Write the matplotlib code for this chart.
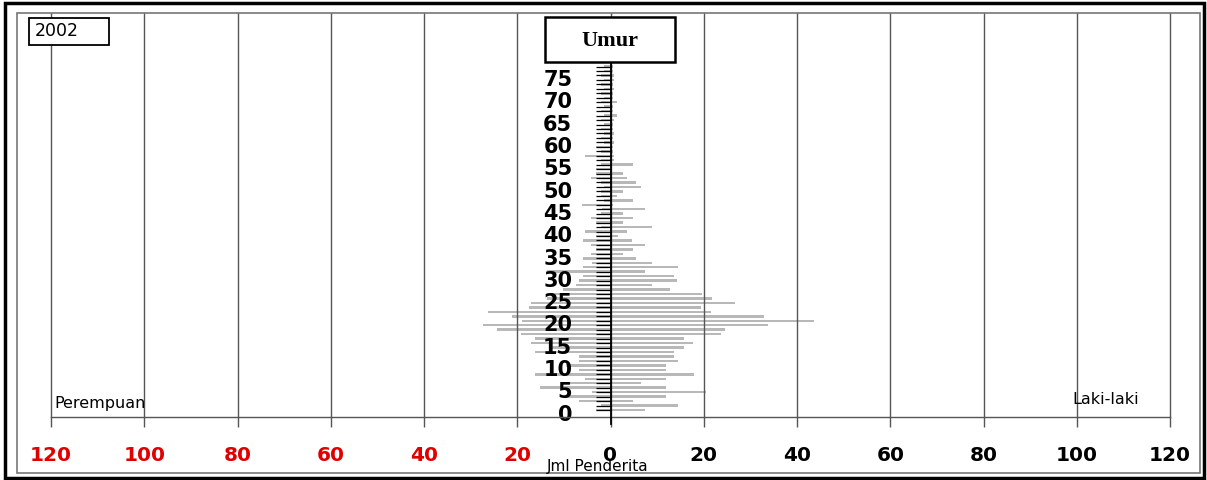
import numpy as np
import matplotlib
matplotlib.use("Agg")
import matplotlib.pyplot as plt
from matplotlib.patches import Rectangle
from matplotlib.transforms import ScaledTranslation

# umur 0..77
ages = list(range(78))

laki = [7.5, 14.5, 4.8, 11.8, 20.5, 11.8, 6.6, 11.8, 17.9, 11.8,
        11.8, 14.5, 13.6, 13.6, 15.7, 17.7, 15.7, 23.7, 24.6, 33.7,
        43.6, 32.9, 21.6, 19.4, 26.6, 21.8, 19.6, 12.7, 8.8, 14.3,
        13.6, 7.5, 14.4, 8.8, 5.4, 2.7, 4.8, 7.5, 4.6, 1.6,
        3.6, 8.8, 2.7, 4.8, 2.7, 7.5, 0.5, 4.8, 1.4, 2.6,
        6.6, 5.4, 3.6, 2.7, 0.4, 4.8, 0.7, 0.7, 0.5, 0.6,
        0.7, 0.5, 0.7, 0.6, 0.5, 0.7, 1.4, 0.6, 0.5, 1.4,
        0.6, 0.5, 0.7, 0.6, 0.8, 0.7, 0.6, 0.5]

perempuan = [3.2, 2.0, 6.8, 9.6, 4.0, 15.1, 9.6, 5.4, 16.3, 6.8,
             9.6, 6.8, 6.8, 16.3, 12.5, 17.0, 16.3, 19.1, 24.3, 27.4,
             18.9, 21.2, 26.3, 17.5, 17.0, 13.6, 13.6, 10.1, 7.5, 6.8,
             6.0, 13.6, 6.0, 4.0, 6.0, 4.1, 3.2, 4.1, 6.0, 3.2,
             5.4, 2.1, 3.2, 4.1, 2.0, 1.8, 6.1, 1.4, 2.1, 2.0,
             1.4, 2.0, 4.1, 3.2, 3.2, 2.0, 2.0, 5.4, 2.0, 3.2,
             1.5, 2.0, 1.5, 2.0, 1.5, 2.0, 1.5, 2.0, 1.5, 2.0,
             1.5, 2.0, 1.5, 2.0, 1.5, 2.0, 1.5, 1.5]

xticks = [-120, -100, -80, -60, -40, -20, 0, 20, 40, 60, 80, 100, 120]
age_labels = [0, 5, 10, 15, 20, 25, 30, 35, 40, 45, 50, 55, 60, 65, 70, 75]

plt.rcParams['font.family'] = ['DejaVu Sans']

fig = plt.figure(figsize=(12.07, 4.80), dpi=100)
ax = fig.add_axes([51 / 1207, 1 - 417.3 / 480, 1119 / 1207, 404.3 / 480])

bar_color = '#b8b8b8'
ax.barh(ages, laki, height=0.55, color=bar_color, zorder=1)
ax.barh(ages, [-v for v in perempuan], height=0.55, color=bar_color, zorder=1)

ax.set_xlim(-120, 120)
ax.set_ylim(-1.64, 89.0)

# grid + sumbu
for s in ['top', 'right']:
    ax.spines[s].set_visible(False)
ax.spines['bottom'].set_color('#555555')
ax.spines['bottom'].set_linewidth(1.0)
ax.spines['left'].set_position(('data', 0))
ax.spines['left'].set_bounds(-3.2, 80)
ax.spines['left'].set_linewidth(1.3)
ax.spines['left'].set_zorder(3)

ax.set_xticks(xticks)
ax.set_xticklabels([str(abs(v)) for v in xticks])
ax.grid(axis='x', color='#555555', linewidth=1.0, zorder=0)
for gl in ax.get_xgridlines():
    gl.set_clip_on(False)
ax.tick_params(axis='x', length=7, width=1.0, color='#555555', pad=14,
               labelsize=14.5)
for lbl, v in zip(ax.get_xticklabels(), xticks):
    lbl.set_fontweight('bold')
    lbl.set_color('#e00000' if v < 0 else 'black')

ax.set_yticks(ages, minor=True)
ax.set_yticks(age_labels)
ax.set_yticklabels([str(a) for a in age_labels])
ax.tick_params(axis='y', which='both', length=10.5, width=0.9, color='black',
               direction='out')
ax.tick_params(axis='y', which='major', pad=17, labelsize=15)
off = ScaledTranslation(0, -2.7 / 100, fig.dpi_scale_trans)
for lbl in ax.get_yticklabels():
    lbl.set_fontweight('bold')
    lbl.set_transform(lbl.get_transform() + off)

ax.text(0.003, 0.035, 'Perempuan', transform=ax.transAxes, fontsize=11.5,
        va='center', ha='left')
ax.text(0.9125, 0.045, 'Laki-laki', transform=ax.transAxes, fontsize=11.5,
        va='center', ha='left')

fig.text(598 / 1207, 1 - 467 / 480, 'Jml Penderita', fontsize=11,
         ha='center', va='center')

# kotak judul
fig.patches.append(Rectangle((545 / 1207, 1 - 62 / 480), 130 / 1207, 45 / 480,
                             transform=fig.transFigure, facecolor='white',
                             edgecolor='black', linewidth=1.8, zorder=5))
fig.text(610 / 1207, 1 - 41 / 480, 'Umur', fontsize=16, fontweight='bold',
         family='Liberation Serif', ha='center', va='center', zorder=6)

fig.patches.append(Rectangle((29 / 1207, 1 - 45 / 480), 80 / 1207, 27 / 480,
                             transform=fig.transFigure, facecolor='white',
                             edgecolor='black', linewidth=1.3, zorder=5))
fig.text(35 / 1207, 1 - 31 / 480, '2002', fontsize=12.5, ha='left',
         va='center', zorder=6)

# bingkai
fig.patches.append(Rectangle((17 / 1207, 1 - 473 / 480), 1183 / 1207, 460 / 480,
                             transform=fig.transFigure, fill=False,
                             edgecolor='#777777', linewidth=1.2))
fig.patches.append(Rectangle((5 / 1207, 1 - 478 / 480), 1199 / 1207, 475 / 480,
                             transform=fig.transFigure, fill=False,
                             edgecolor='black', linewidth=2.5))

fig.savefig('out.png', dpi=100)
